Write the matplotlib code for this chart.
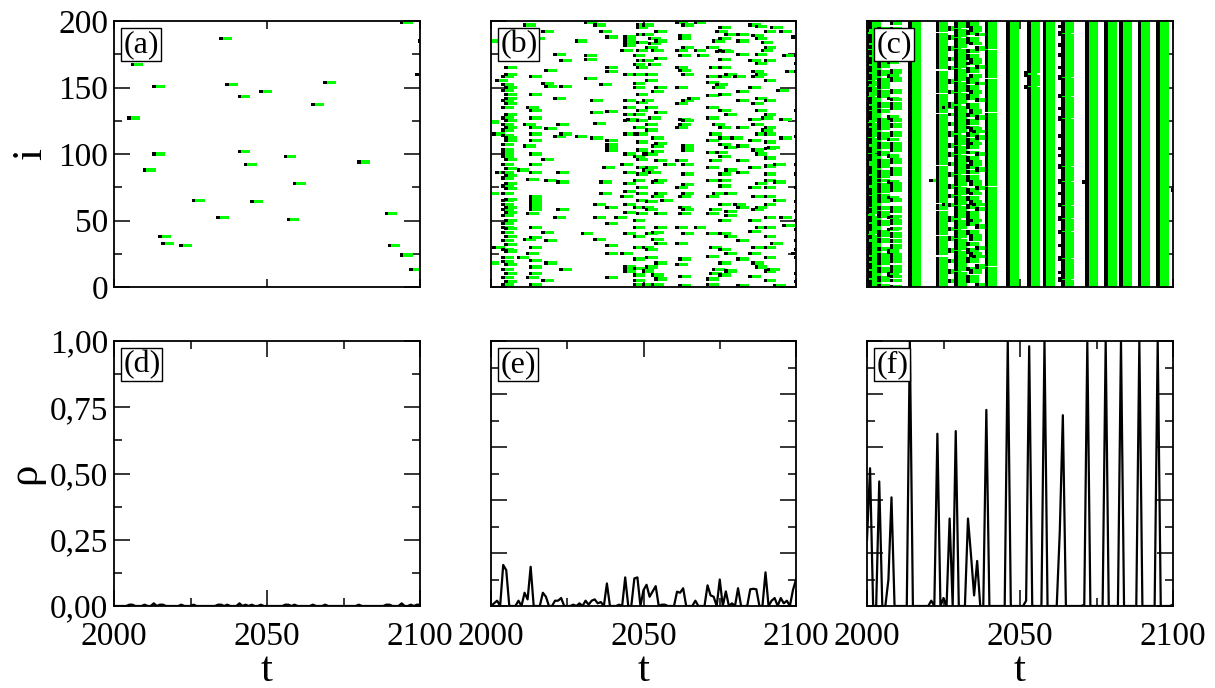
import numpy as np
import matplotlib
matplotlib.use("Agg")
import matplotlib.pyplot as plt
from matplotlib.ticker import MultipleLocator, FuncFormatter

plt.rcParams["font.family"] = ["Liberation Serif", "DejaVu Serif"]

N_NEURONS = 200
T_START, T_END = 2000, 2100
time = np.arange(T_START, T_END + 1)

# ---------------- panel (a): sparse activity ----------------
a_spike_t = [2035, 2006, 2013, 2037, 2048, 2041, 2069, 2065, 2005, 2013,
             2041, 2043, 2056, 2080, 2010, 2059, 2026, 2045, 2034, 2057,
             2089, 2015, 2016, 2022, 2090, 2094, 2097, 2094, 2100, 2099]
a_spike_i = [187, 167, 151, 152, 147, 143, 154, 137, 127, 100,
             102, 92, 98, 94, 88, 78, 65, 64, 52, 51,
             55, 38, 33, 31, 31, 24, 13, 199, 185, 160]

# ---------------- panel (b): intermediate activity ----------------
b_spikes = [
    (2011, 197), (2031, 199), (2034, 197), (2048, 197), (2048, 195), (2050, 197), (2061, 199),
    (2063, 197), (2067, 199), (2085, 197), (2087, 196), (2092, 195), (2017, 192), (2036, 192),
    (2054, 192), (2062, 189), (2074, 192), (2081, 190), (2086, 189), (2090, 192), (2095, 192),
    (2099, 188), (2014, 187), (2038, 188), (2044, 188), (2044, 185), (2052, 187), (2052, 183),
    (2028, 185), (2048, 184), (2062, 187), (2075, 187), (2081, 185), (2087, 187), (2089, 184),
    (2043, 178), (2053, 178), (2061, 178), (2067, 178), (2074, 177), (2089, 178), (2021, 175),
    (2047, 174), (2062, 174), (2068, 174), (2076, 177), (2096, 174), (2031, 174), (2023, 170),
    (2031, 171), (2048, 170), (2075, 171), (2087, 175), (2047, 167), (2052, 167), (2087, 168),
    (2061, 165), (2062, 163), (2005, 165), (2038, 162), (2018, 163), (2048, 165), (2097, 162),
    (2086, 162), (2004, 158), (2013, 158), (2071, 158), (2075, 158), (2080, 158), (2086, 158),
    (2031, 157), (2002, 155), (2017, 153), (2047, 153), (2051, 155), (2071, 154), (2004, 152),
    (2036, 152), (2074, 152), (2023, 151), (2018, 151), (2094, 148), (2053, 147), (2081, 147),
    (2071, 144), (2005, 145), (2005, 142), (2021, 142), (2033, 140), (2048, 139), (2061, 138),
    (2065, 142), (2087, 142), (2090, 140), (2086, 138), (2004, 135), (2012, 135), (2013, 133),
    (2044, 135), (2048, 133), (2075, 133), (2087, 133), (2004, 127), (2013, 127), (2033, 131),
    (2038, 132), (2044, 130), (2045, 126), (2052, 127), (2062, 126), (2071, 127), (2085, 126),
    (2089, 127), (2095, 126), (2034, 123), (2051, 122), (2062, 122), (2073, 122), (2086, 122),
    (2011, 122), (2004, 122), (2013, 120), (2022, 122), (2004, 118), (2018, 119), (2051, 118),
    (2089, 118), (2001, 115), (2013, 115), (2021, 113), (2023, 115), (2028, 113), (2033, 112),
    (2047, 115), (2053, 112), (2072, 115), (2079, 112), (2087, 115), (2004, 107), (2011, 106),
    (2038, 107), (2038, 105), (2048, 109), (2053, 106), (2063, 106), (2075, 107), (2081, 106),
    (2090, 109), (2095, 112), (2004, 103), (2048, 103), (2053, 102), (2063, 103), (2086, 103),
    (2091, 105), (2004, 100), (2071, 101), (2074, 101), (2090, 104), (2004, 98), (2075, 98),
    (2017, 96), (2048, 96), (2004, 92), (2043, 92), (2057, 92), (2071, 90), (2090, 91),
    (2093, 92), (2037, 90), (2009, 88), (2044, 86), (2052, 86), (2063, 85), (2002, 86),
    (2013, 86), (2022, 86), (2081, 86), (2004, 82), (2012, 81), (2018, 80), (2022, 79),
    (2036, 79), (2044, 78), (2053, 79), (2063, 77), (2075, 76), (2087, 78), (2090, 80),
    (2093, 79), (2004, 70), (2013, 68), (2036, 70), (2043, 68), (2048, 70), (2053, 68),
    (2062, 68), (2071, 68), (2086, 68), (2090, 68), (2093, 65), (2013, 63), (2004, 62),
    (2034, 62), (2044, 62), (2051, 64), (2056, 65), (2062, 60), (2075, 62), (2080, 62),
    (2004, 58), (2013, 58), (2022, 58), (2051, 58), (2063, 58), (2072, 58), (2077, 57),
    (2086, 58), (2004, 54), (2012, 55), (2021, 52), (2034, 52), (2041, 52), (2062, 55),
    (2071, 55), (2077, 54), (2090, 52), (2095, 52), (2004, 48), (2004, 41), (2017, 41),
    (2030, 40), (2047, 45), (2067, 45), (2047, 38), (2053, 41), (2077, 38), (2085, 42),
    (2090, 45), (2090, 38), (2096, 46), (2011, 36), (2013, 37), (2034, 36), (2053, 36),
    (2004, 35), (2018, 35), (2038, 31), (2061, 33), (2086, 30), (2092, 33), (2001, 30),
    (2012, 25), (2043, 25), (2071, 23), (2099, 25), (2004, 22), (2009, 22), (2013, 20),
    (2018, 18), (2047, 21), (2051, 22), (2062, 21), (2061, 17), (2073, 13), (2081, 21),
    (2086, 18), (2091, 13), (2004, 13), (2013, 15), (2047, 14), (2023, 13), (2004, 7),
    (2012, 7), (2017, 5), (2038, 7), (2047, 9), (2053, 9), (2062, 8), (2071, 6),
    (2075, 9), (2004, 2), (2013, 2), (2047, 2), (2050, 2), (2053, 2), (2062, 1),
    (2071, 2), (2081, 1), (2093, 1),
    # busier columns
    (2005, 160), (2005, 150), (2005, 138), (2005, 130), (2005, 125), (2005, 120), (2005, 112),
    (2005, 110), (2005, 96), (2005, 89), (2005, 84), (2005, 78), (2005, 74), (2005, 66),
    (2005, 60), (2005, 56), (2005, 50), (2005, 44), (2005, 38), (2005, 32), (2005, 27),
    (2005, 17), (2005, 10), (2005, 4), (2004, 148), (2004, 140), (2004, 114), (2004, 86),
    (2004, 76), (2004, 65), (2004, 45), (2004, 28), (2004, 19),
    (2013, 66), (2013, 65), (2013, 61), (2013, 60), (2013, 145), (2013, 110), (2013, 100),
    (2013, 92), (2013, 45), (2013, 30), (2013, 10),
    (2038, 110), (2038, 104), (2038, 103), (2038, 165), (2038, 60), (2038, 48), (2038, 25),
    (2044, 182), (2044, 160), (2044, 140), (2044, 125), (2044, 115), (2044, 100), (2044, 72),
    (2044, 56), (2044, 40), (2044, 15), (2044, 12),
    (2047, 160), (2047, 150), (2047, 130), (2047, 120), (2047, 98), (2047, 80), (2047, 60),
    (2047, 50), (2047, 30), (2047, 5),
    (2048, 190), (2048, 178), (2048, 145), (2048, 125), (2048, 115), (2048, 90), (2048, 85),
    (2048, 75), (2048, 65), (2048, 55),
    (2050, 190), (2050, 170), (2050, 140), (2050, 100), (2050, 88), (2050, 60), (2050, 30),
    (2050, 12), (2051, 180), (2051, 160), (2051, 135), (2051, 100), (2051, 90), (2051, 40),
    (2051, 28), (2051, 15),
    (2054, 185), (2054, 172), (2054, 150), (2054, 131), (2054, 108), (2054, 95), (2054, 80),
    (2054, 70), (2054, 55), (2054, 45), (2054, 33), (2054, 18), (2054, 6),
    (2061, 150), (2061, 120), (2061, 95), (2061, 75), (2061, 45),
    (2063, 180), (2063, 160), (2063, 140), (2063, 125), (2063, 92), (2063, 70), (2063, 40),
    (2071, 180), (2071, 135), (2071, 110), (2071, 80), (2071, 40),
    (2072, 165), (2072, 95), (2072, 30), (2072, 10), (2073, 185), (2073, 150), (2073, 70),
    (2075, 195), (2075, 178), (2075, 165), (2075, 145), (2075, 120), (2075, 112), (2075, 85),
    (2075, 80), (2075, 50), (2075, 40), (2075, 28), (2075, 18),
    (2077, 190), (2077, 160), (2077, 130), (2077, 105), (2077, 88), (2077, 70), (2077, 25),
    (2077, 12),
    (2081, 175), (2081, 140), (2081, 120), (2081, 95), (2081, 60), (2081, 35),
    (2085, 170), (2085, 150), (2085, 110), (2085, 90), (2085, 75), (2085, 50), (2085, 25),
    (2085, 8), (2087, 160), (2087, 100), (2087, 60), (2087, 45), (2087, 15),
    (2090, 180), (2090, 170), (2090, 155), (2090, 130), (2090, 120), (2090, 115), (2090, 97),
    (2090, 85), (2090, 75), (2090, 62), (2090, 30), (2090, 22), (2090, 12), (2090, 5),
]
b_edge_i = [175, 174, 168, 162, 133, 113, 92, 85, 75, 64, 57, 50, 43, 35, 28, 22, 10, 4]
b_prior_i = [185, 124, 70, 30, 18]

# ---------------- panel (c): synchronised activity ----------------
c_sync_times = [2014, 2046, 2053, 2058, 2072, 2078, 2083, 2089, 2095]
c_early_fire_t = [2052, 2052, 2052, 2052, 2052, 2071]
c_early_fire_i = [150, 151, 159, 160, 161, 79]
c_extra_t = [2100]
c_extra_i = [73]

# firing sequences at the start of the window, one letter per neuron (top row first)
c_patterns = {
    "A": (1997, 2001, 2008), "B": (1997, 2001, 2007), "C": (1997, 2001),
    "D": (2000, 2004, 2008), "E": (1999, 2004, 2008), "F": (2000, 2004),
    "G": (1999, 2004), "H": (2001,), ".": (),
}
c_start = ("AACHHDDEGGABBCCFFDAAGGCCDDEAAHBFFGCCADDGBBAEECFFGG"
           "CADDFGGBACCEDDAAFGHCCBBDDGGAEFFCCADAGGBHCDDEFAACGG"
           "BBCADDFFGCAAEHDGGCCFBADDEEAGCCFFBDAGHCCDDAAFGGEBCA"
           "DDGCCABFFEEAHGDDCCAAFGBBCDDGAEEFCCAGGDHBBAFFDCC.GA")

# partial waves: base time and per-neuron delay digit (top row first, '.' = silent)
c_wave_base = [2021, 2027, 2033, 2039, 2063]
c_wave_delay = [
    ("22.2222..22222.222..2222222.22.2222...222222.22222"
     "222..22222.2224222..22222.222222..222.2222.2222222"
     "2.22222..2222222.2202222..2222.22222.4222..222222."
     "222222.222..2222222.22222...2222.222222.2222..2222"),
    ("22220022222002222220022222200222220022222222002222"
     "22002222222000222220222222002222200022222200222220"
     "02222200222222002222222002222200222220022222222000"
     "22222002222200222222200222222002222220022222002222"),
    ("00.0111003..00001..3300..0001110.33000..1100003.00"
     "0011.00033..000.1110033.000..0112.00330001.00...03"
     "..000111003300..0000111.330001..00.1120033.00.0001"
     "00033..0001111..00.33000112.000..330011..00000.3."),
    ("000000.0.0.0000000.0..00000000.0.000000000..000.00"
     "00.00000.0000.000..0000000.000000.000.0000.000000."
     "0.0000000.00000.0000000..000000.0000.0000000.0000."
     "000.0000000.000000.000000.0000000..00000.00000000."),
    ("11101111001111111011111100111111110111111001111111"
     "11111001111111101111110011111111111001111111101111"
     "01111111001111111110011111111011111110011111111001"
     "11111110011111111101111111100111111111011110011111"),
]

# ---------------- density of active neurons ----------------
rho_e = [0.000, 0.010, 0.020, 0.000, 0.155, 0.135, 0.000, 0.000, 0.000, 0.020,
         0.000, 0.050, 0.025, 0.148, 0.000, 0.000, 0.000, 0.050, 0.035, 0.000,
         0.000, 0.020, 0.020, 0.030, 0.000, 0.000, 0.000, 0.005, 0.000, 0.010,
         0.000, 0.020, 0.005, 0.020, 0.025, 0.010, 0.015, 0.000, 0.085, 0.000,
         0.000, 0.000, 0.005, 0.000, 0.108, 0.000, 0.000, 0.104, 0.108, 0.000,
         0.060, 0.080, 0.035, 0.055, 0.075, 0.000, 0.005, 0.005, 0.000, 0.000,
         0.000, 0.054, 0.050, 0.067, 0.000, 0.000, 0.000, 0.020, 0.000, 0.000,
         0.000, 0.078, 0.040, 0.035, 0.000, 0.100, 0.000, 0.055, 0.000, 0.010,
         0.000, 0.067, 0.000, 0.000, 0.000, 0.063, 0.065, 0.063, 0.000, 0.000,
         0.127, 0.000, 0.020, 0.030, 0.000, 0.030, 0.010, 0.020, 0.000, 0.060,
         0.100]
rho_f = [0.25, 0.52, 0.00, 0.00, 0.47, 0.00, 0.00, 0.10, 0.41, 0.00,
         0.00, 0.00, 0.00, 0.00, 1.00, 0.00, 0.00, 0.00, 0.00, 0.00,
         0.00, 0.02, 0.00, 0.65, 0.00, 0.03, 0.00, 0.33, 0.00, 0.66,
         0.00, 0.00, 0.00, 0.33, 0.19, 0.04, 0.17, 0.00, 0.00, 0.74,
         0.00, 0.00, 0.00, 0.00, 0.00, 0.00, 1.00, 0.00, 0.00, 0.00,
         0.00, 0.00, 0.02, 0.98, 0.00, 0.00, 0.00, 0.00, 1.00, 0.00,
         0.00, 0.00, 0.00, 0.28, 0.72, 0.00, 0.00, 0.00, 0.00, 0.00,
         0.00, 0.005, 0.995, 0.00, 0.00, 0.00, 0.00, 0.00, 1.00, 0.00,
         0.00, 0.00, 0.00, 1.00, 0.00, 0.00, 0.00, 0.00, 0.00, 1.00,
         0.00, 0.00, 0.00, 0.00, 0.00, 1.00, 0.00, 0.00, 0.00, 0.00,
         0.005]


def build_c_raster():
    ts, idx = [], []
    for k, ch in enumerate(c_start):
        for t in c_patterns[ch]:
            ts.append(t)
            idx.append(N_NEURONS - 1 - k)
    for base, delays in zip(c_wave_base, c_wave_delay):
        for k, ch in enumerate(delays):
            if ch != ".":
                ts.append(base + int(ch))
                idx.append(N_NEURONS - 1 - k)
    early = set(zip(c_early_fire_t, c_early_fire_i))
    for T in c_sync_times:
        for i in range(N_NEURONS):
            if (T - 1, i) not in early:
                ts.append(T)
                idx.append(i)
    ts += list(c_early_fire_t) + list(c_extra_t)
    idx += list(c_early_fire_i) + list(c_extra_i)
    return ts, idx


b_t = [t for t, _ in b_spikes] + [T_END] * len(b_edge_i) + [T_START - 1] * len(b_prior_i)
b_i = [i for _, i in b_spikes] + b_edge_i + b_prior_i
c_t, c_i = build_c_raster()

# density in (d) follows from the spikes of (a)
rho_d = np.zeros(len(time))
for t in a_spike_t:
    rho_d[t - T_START] += 1.0 / N_NEURONS

# ---------------- figure ----------------
W, H = 1215, 688
fig = plt.figure(figsize=(W / 100, H / 100), dpi=100)


def add_axes_px(x0, y0, x1, y1):
    return fig.add_axes([x0 / W, 1 - y1 / H, (x1 - x0) / W, (y1 - y0) / H])


cols = [(114, 420), (491, 796), (867, 1173)]
top_axes = [add_axes_px(x0, 21, x1, 287) for x0, x1 in cols]
bot_axes = [add_axes_px(x0, 341, x1, 606) for x0, x1 in cols]

GREEN = "#00ff00"
MARK_H = 2.4


def draw_raster(ax, ts, idx):
    ts = np.asarray(ts, float)
    idx = np.asarray(idx, float)
    ax.bar(ts + 0.4, MARK_H, width=3.2, bottom=idx - MARK_H / 2, align="edge",
           color=GREEN, linewidth=0, zorder=2)
    ax.bar(ts, MARK_H, width=1.2, bottom=idx - MARK_H / 2, align="center",
           color="black", linewidth=0, zorder=3)


TICK_FS = 24
LABEL_FS = 31

for ax in top_axes + bot_axes:
    for s in ax.spines.values():
        s.set_linewidth(1.3)
        s.set_zorder(6)
    ax.set_xlim(T_START, T_END)
    ax.tick_params(which="both", direction="in", top=True, right=True, width=1.1,
                   labelsize=TICK_FS)
    ax.tick_params(axis="y", pad=4)
    ax.tick_params(axis="x", pad=11)

for ax, (ts, idx) in zip(top_axes, [(a_spike_t, a_spike_i), (b_t, b_i), (c_t, c_i)]):
    draw_raster(ax, ts, idx)
    ax.set_ylim(0, N_NEURONS)
    ax.yaxis.set_major_locator(MultipleLocator(50))
    ax.yaxis.set_minor_locator(MultipleLocator(25))
    ax.xaxis.set_major_locator(MultipleLocator(50))
    ax.tick_params(axis="y", which="major", length=11.5)
    ax.tick_params(axis="y", which="minor", length=6)
    ax.tick_params(axis="x", which="major", length=6)
    ax.tick_params(labelbottom=False)

for k, (ax, rho) in enumerate(zip(bot_axes, [rho_d, rho_e, rho_f])):
    ax.plot(time, rho, color="black", lw=1.6, zorder=4)
    ax.set_ylim(0, 1)
    if k == 0:
        ax.yaxis.set_major_locator(MultipleLocator(0.25))
        ax.yaxis.set_minor_locator(MultipleLocator(0.125))
        ax.yaxis.set_major_formatter(FuncFormatter(lambda v, p: f"{v:.2f}".replace(".", ",")))
    else:
        ax.yaxis.set_major_locator(MultipleLocator(0.2))
        ax.yaxis.set_minor_locator(MultipleLocator(0.1))
    ax.xaxis.set_major_locator(MultipleLocator(50))
    ax.xaxis.set_minor_locator(MultipleLocator(25))
    ax.tick_params(which="major", length=11.5)
    ax.tick_params(which="minor", length=6)
    ax.set_xlabel("t", fontsize=LABEL_FS, labelpad=0)

for k, ax in enumerate(top_axes + bot_axes):
    if k not in (0, 3):
        ax.tick_params(labelleft=False)

top_axes[0].set_ylabel("i", fontsize=LABEL_FS, labelpad=6)
bot_axes[0].set_ylabel("ρ", fontsize=LABEL_FS, labelpad=4)

for ax, lab in zip(top_axes + bot_axes, ["(a)", "(b)", "(c)", "(d)", "(e)", "(f)"]):
    ax.text(0.03, 0.967, lab, transform=ax.transAxes, ha="left", va="top",
            fontsize=23, zorder=10,
            bbox=dict(boxstyle="square,pad=0.06", fc="white", ec="black", lw=1.0))

fig.savefig("out.png", dpi=100)
